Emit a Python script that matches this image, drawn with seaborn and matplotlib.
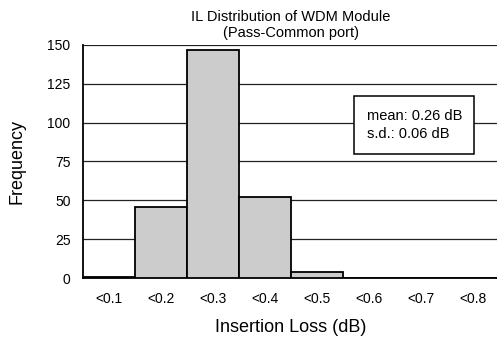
import numpy as np
import pandas as pd
import seaborn as sns
import matplotlib.pyplot as plt

# chart data
bins = ['<0.1', '<0.2', '<0.3', '<0.4', '<0.5', '<0.6', '<0.7', '<0.8']
counts = [1, 46, 147, 52, 4, 0, 0, 0]
y_ticks = [0, 25, 50, 75, 100, 125, 150]

df = pd.DataFrame({'bin': bins, 'count': counts})

sns.set_style('white')
plt.rcParams['font.family'] = ['Liberation Sans', 'DejaVu Sans']
plt.rcParams['text.color'] = 'black'
plt.rcParams['axes.labelcolor'] = 'black'
plt.rcParams['xtick.color'] = 'black'
plt.rcParams['ytick.color'] = 'black'

fig = plt.figure(figsize=(4.97, 3.4), dpi=100)
ax = fig.add_axes([0.167, 0.182, 0.836, 0.686])

sns.barplot(data=df, x='bin', y='count', color='#cccccc', edgecolor='black',
            linewidth=1.3, width=1.0, saturation=1, ax=ax, zorder=3)

ax.set_ylim(0, 150)
ax.set_xlim(-0.5, len(bins) - 0.5)
ax.set_yticks(y_ticks)
ax.yaxis.grid(True, color='#222222', linewidth=0.9)
ax.set_axisbelow(True)
for s in ['top', 'right']:
    ax.spines[s].set_visible(False)
for s in ['left', 'bottom']:
    ax.spines[s].set_color('black')
    ax.spines[s].set_linewidth(1.3)

ax.tick_params(axis='y', length=0, labelsize=10, pad=9)
ax.tick_params(axis='x', length=0, labelsize=10, pad=10)
# small ticks at category boundaries, pointing up
ax.set_xticks(np.arange(len(bins) - 1) + 0.5, minor=True)
ax.tick_params(axis='x', which='minor', direction='in', length=4, color='black')

ax.set_xlabel('Insertion Loss (dB)', fontsize=13, labelpad=9)
ax.set_ylabel('Frequency', fontsize=13, labelpad=16)
ax.set_title('IL Distribution of WDM Module\n(Pass-Common port)', fontsize=10.5, pad=6,
             linespacing=1.1)

ax.text(4.96, 98.5, 'mean: 0.26 dB\ns.d.: 0.06 dB', fontsize=10.5, va='center',
        ha='left', linespacing=1.4, zorder=5,
        bbox=dict(boxstyle='square,pad=0.85', facecolor='white', edgecolor='black',
                  linewidth=1.1))

fig.savefig('out.png', dpi=100)
